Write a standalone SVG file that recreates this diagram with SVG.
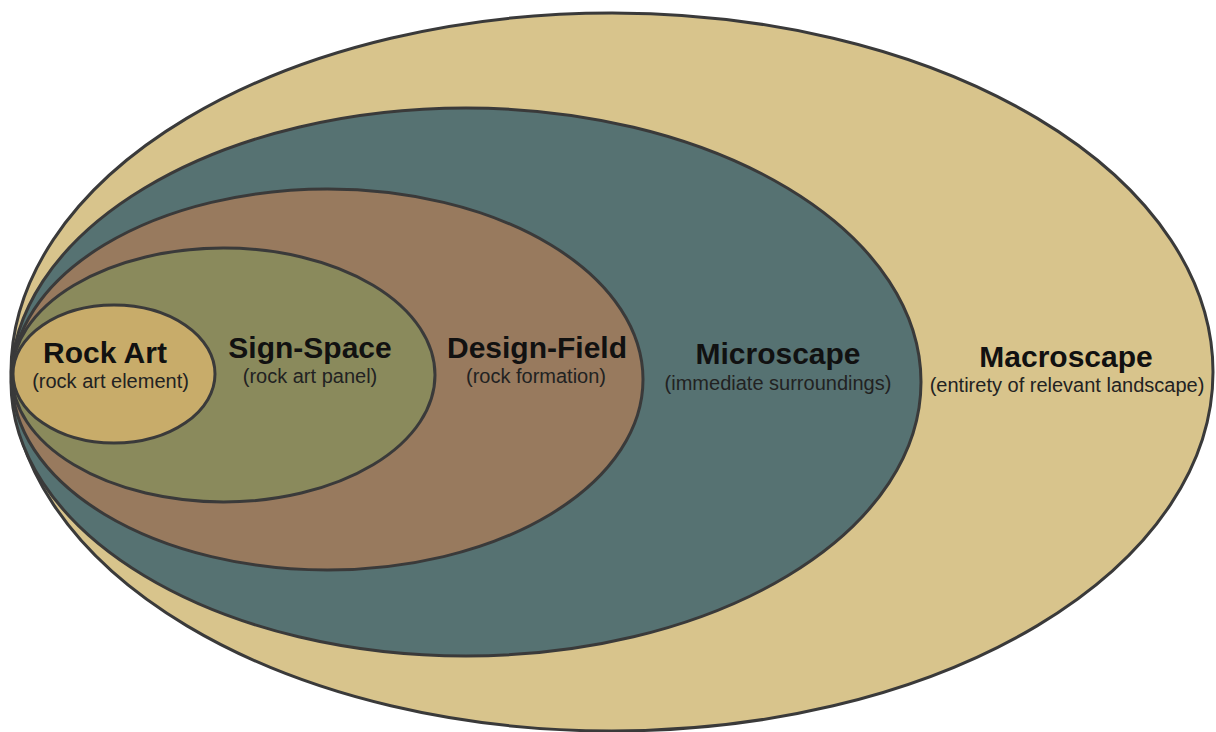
<svg xmlns="http://www.w3.org/2000/svg" width="1216" height="732" viewBox="0 0 1216 732">
<style>
.ring{stroke:#3a3a3a;stroke-width:3}
.t{font-family:"Liberation Sans",Arial,sans-serif;font-weight:bold;font-size:30px;fill:#111;text-anchor:middle}
.s{font-family:"Liberation Sans",Arial,sans-serif;font-size:20px;fill:#222;text-anchor:middle}
</style>
<rect width="1216" height="732" fill="#ffffff"/>
<g id="macroscape">
<ellipse class="ring" cx="612" cy="372" rx="601" ry="359" fill="#d8c48c"/>
<text class="t" x="1066" y="367">Macroscape</text>
<text class="s" x="1067" y="392">(entirety of relevant landscape)</text>
</g>
<g id="microscape">
<ellipse class="ring" cx="466" cy="382" rx="455" ry="274" fill="#567272"/>
<text class="t" x="778" y="364">Microscape</text>
<text class="s" x="778" y="390">(immediate surroundings)</text>
</g>
<g id="design-field">
<ellipse class="ring" cx="327.5" cy="379.5" rx="315.5" ry="190.5" fill="#987a5e"/>
<text class="t" x="537" y="358">Design-Field</text>
<text class="s" x="536" y="383">(rock formation)</text>
</g>
<g id="sign-space">
<ellipse class="ring" cx="223.5" cy="375" rx="211.5" ry="127" fill="#8a8a5c"/>
<text class="t" x="310" y="358">Sign-Space</text>
<text class="s" x="310" y="383">(rock art panel)</text>
</g>
<g id="rock-art">
<ellipse class="ring" cx="114" cy="374" rx="101" ry="69" fill="#c8ac6a"/>
<text class="t" x="105" y="363">Rock Art</text>
<text class="s" x="110.5" y="388">(rock art element)</text>
</g>
<g id="connectors"></g>
</svg>
